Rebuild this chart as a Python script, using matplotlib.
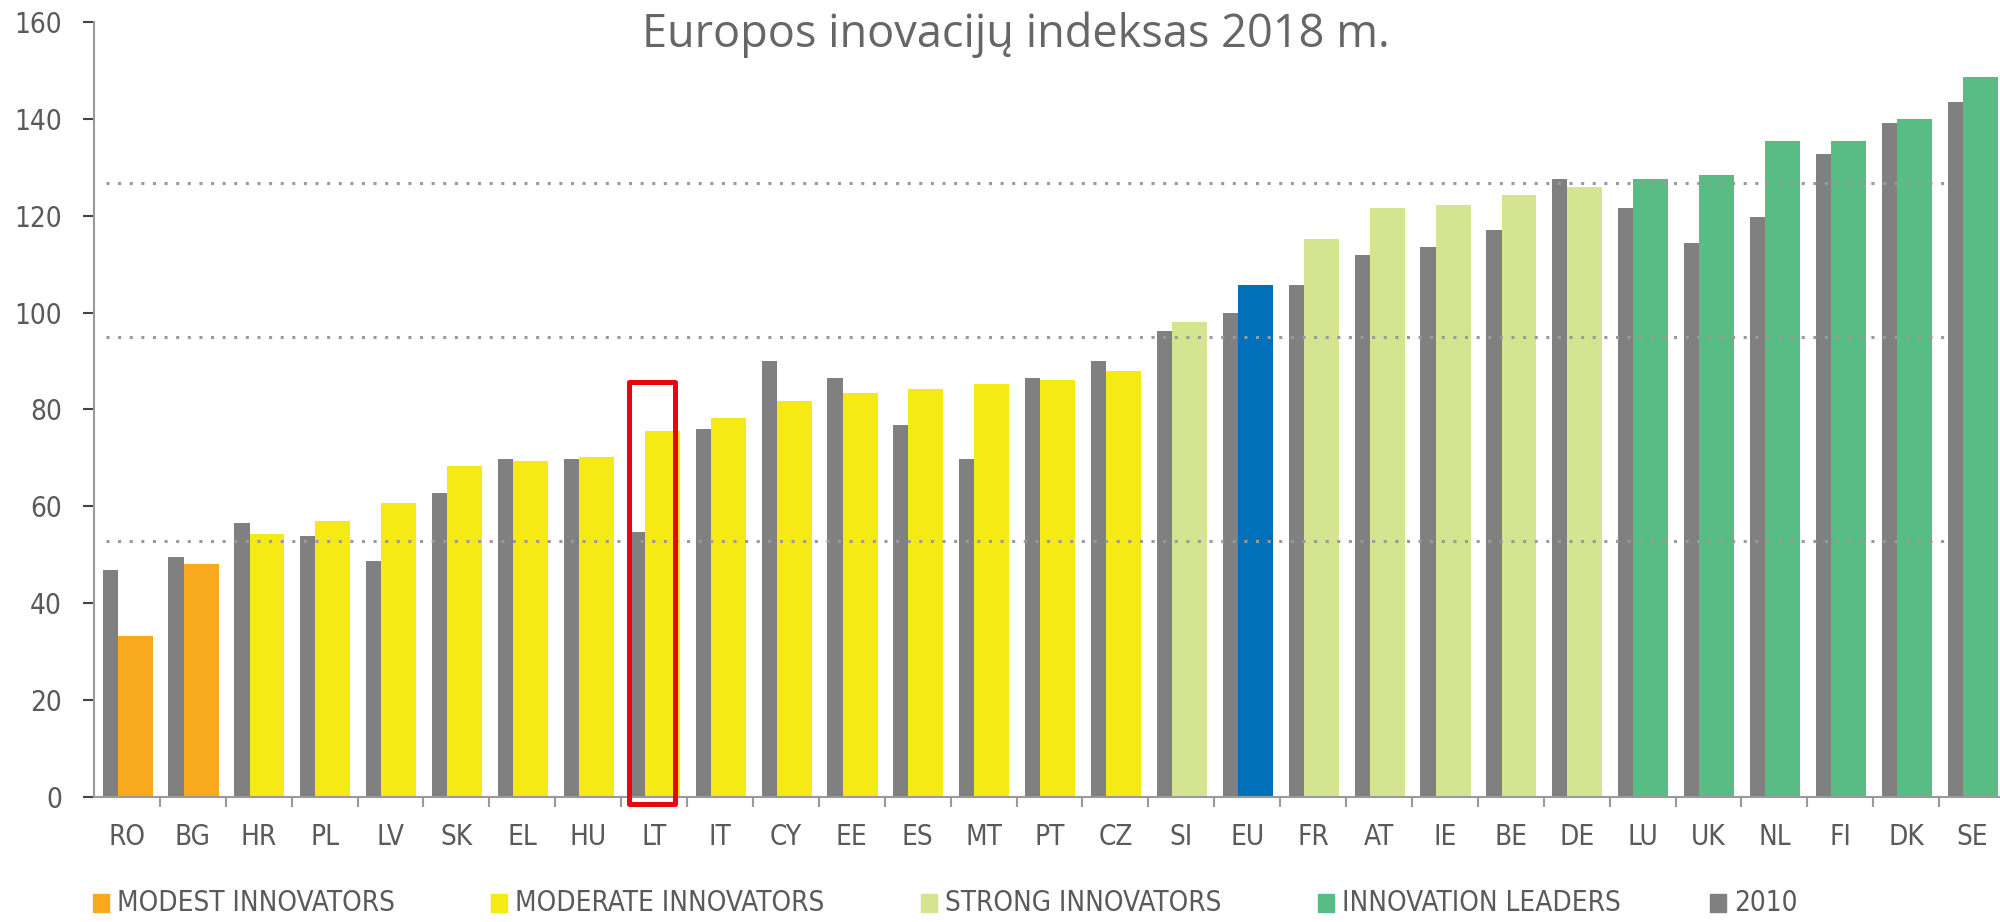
import matplotlib
matplotlib.use("Agg")
import matplotlib.pyplot as plt
from matplotlib.patches import Rectangle
from matplotlib import font_manager
import numpy as np

# ---- data ----
countries = ["RO", "BG", "HR", "PL", "LV", "SK", "EL", "HU", "LT", "IT", "CY", "EE", "ES", "MT",
             "PT", "CZ", "SI", "EU", "FR", "AT", "IE", "BE", "DE", "LU", "UK", "NL", "FI", "DK", "SE"]
score_2018 = [33.3, 48.2, 54.4, 57.0, 60.6, 68.4, 69.4, 70.2, 75.6, 78.2, 81.7, 83.5, 84.3, 85.2,
              86.1, 87.9, 98.0, 105.6, 115.3, 121.5, 122.3, 124.2, 125.9, 127.6, 128.4, 135.5, 135.5, 139.9, 148.6]
score_2010 = [46.9, 49.6, 56.6, 53.9, 48.7, 62.7, 69.8, 69.8, 54.8, 76.0, 90.0, 86.4, 76.8, 69.8,
              86.4, 90.0, 96.2, 100.0, 105.8, 111.9, 113.6, 117.1, 127.6, 121.5, 114.4, 119.7, 132.8, 139.1, 143.4]
groups = ["modest"] * 2 + ["moderate"] * 14 + ["strong"] + ["eu"] + ["strong"] * 5 + ["leader"] * 6
thresholds = [52.8, 95.0, 126.7]
yticks = [0, 20, 40, 60, 80, 100, 120, 140, 160]
legend_labels = ["MODEST INNOVATORS", "MODERATE INNOVATORS", "STRONG INNOVATORS", "INNOVATION LEADERS", "2010"]
highlight = "LT"
title = "Europos inovacijų indeksas 2018 m."

# ---- style ----
group_colors = {"modest": "#F8A91D", "moderate": "#F6EA14", "strong": "#D5E491",
                "eu": "#0070BA", "leader": "#58BD84"}
gray = "#808080"
txt_color = "#5a5a5a"

# pick a condensed face if one is installed
names = {f.name for f in font_manager.fontManager.ttflist}
if "Liberation Sans Narrow" in names:
    lab_font = dict(family=["Liberation Sans Narrow", "DejaVu Sans"], fontsize=20.5)
elif any(f.name == "DejaVu Sans" and f.stretch in ("condensed", 300, "semi-condensed")
         for f in font_manager.fontManager.ttflist):
    lab_font = dict(family=["DejaVu Sans"], fontstretch="condensed", fontsize=20)
else:
    lab_font = dict(family=["Roboto", "DejaVu Sans"], fontsize=19)

W, H = 2000, 922
fig = plt.figure(figsize=(W / 100, H / 100), dpi=100)
ax = fig.add_axes([94 / W, 1 - 797 / H, 1911 / W, (797 - 22) / H])

x = np.arange(len(countries))
colors = [group_colors[g] for g in groups]
ax.bar(x - 0.255, score_2010, width=0.23, color=gray, zorder=2, linewidth=0)
ax.bar(x + 0.125, score_2018, width=0.53, color=colors, zorder=2, linewidth=0)

ax.hlines(thresholds, -0.32, 27.63, colors="#9a9a9a", linestyles=(0, (1, 2.8)), lw=2.2, zorder=3)

# highlight box
i = countries.index(highlight)
ax.add_patch(Rectangle((i - 0.375, -1.45), 0.685, 87.05, fill=False, ec="#E8070E", lw=3.6,
                       joinstyle="round", clip_on=False, zorder=5))

ax.set_xlim(-0.5, len(countries) - 0.5)
ax.set_ylim(0, 160)

for s in ["top", "right"]:
    ax.spines[s].set_visible(False)
for s in ["left", "bottom"]:
    ax.spines[s].set_color("#9a9a9a")
    ax.spines[s].set_linewidth(1.5)

ax.set_yticks(yticks)
ax.set_yticklabels([str(v) for v in yticks], color=txt_color, **lab_font)
ax.tick_params(axis="y", length=8, width=1.5, color="#444444", pad=15)

ax.set_xticks(x)
ax.set_xticklabels(countries, color=txt_color, **lab_font)
ax.tick_params(axis="x", which="major", length=0, pad=19)
ax.set_xticks(np.arange(0.5, len(countries) - 0.5, 1.0), minor=True)
ax.tick_params(axis="x", which="minor", length=7, width=1.5, color="#9a9a9a")

fig.text(1016 / W, 1 - 47 / H, title, ha="center", va="baseline",
         family=["Open Sans", "DejaVu Sans"], fontsize=32.5, color="#666666")

# legend (manual placement)
leg_colors = [group_colors["modest"], group_colors["moderate"], group_colors["strong"],
              group_colors["leader"], gray]
sq_x = [93, 491, 921, 1318, 1710]
yc = 903
for lab, c, sx in zip(legend_labels, leg_colors, sq_x):
    fig.patches.append(Rectangle((sx / W, 1 - (yc + 9) / H), 16 / W, 18 / H, color=c,
                                 transform=fig.transFigure, figure=fig))
    fig.text((sx + 24) / W, 1 - yc / H, lab, ha="left", va="center", color=txt_color, **lab_font)

fig.savefig("out.png", dpi=100, facecolor="white")
